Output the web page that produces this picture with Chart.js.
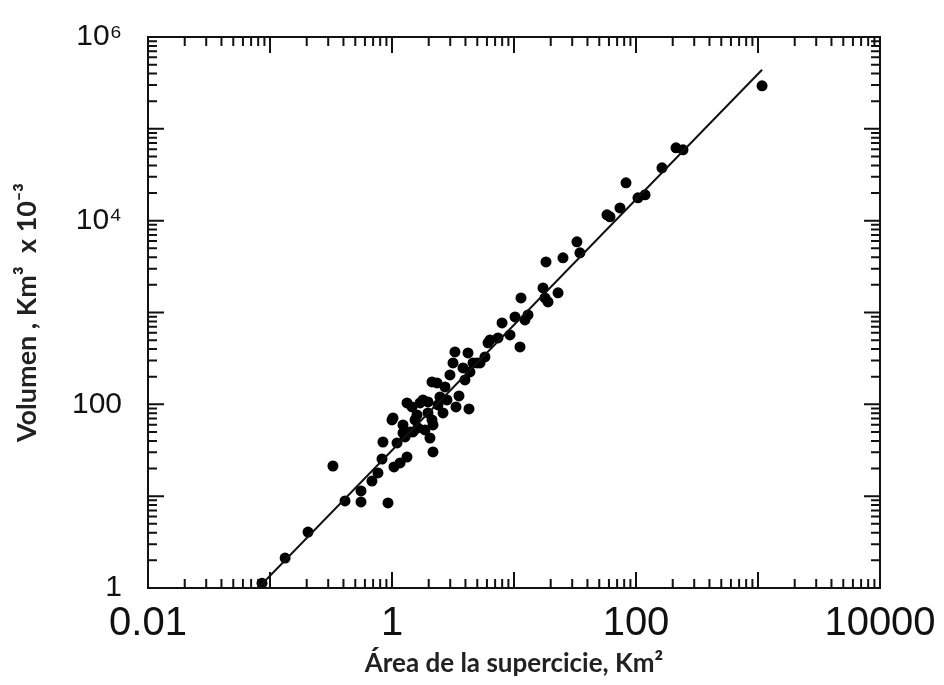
<!DOCTYPE html>
<html lang="es">
<head>
  <meta charset="UTF-8">
  <title>Volumen vs área de la superficie</title>
  <script src="https://cdn.jsdelivr.net/npm/chart.js"></script>
  <style>
    html, body { margin: 0; padding: 0; background: #fff; }
    canvas { display: block; }
  </style>
</head>
<body>
  <canvas id="chart" width="944" height="685"></canvas>

  <script>
    // valores (area en Km2, volumen en Km3 x 10^-3)
    const AREA = [
      0.086, 0.133, 0.205, 0.328, 0.412, 0.557, 0.557, 0.927, 0.685, 0.767,
      0.828, 0.843, 1.038, 1.164, 1.327, 1.099, 1.0, 1.231, 1.406, 1.633,
      2.047, 2.168, 2.168, 1.459, 1.698, 1.972, 1.279, 1.019, 3.346, 4.276,
      3.54, 2.128, 1.795, 1.603, 1.231, 1.486, 2.473, 2.717, 2.985, 3.819,
      2.338, 1.327, 1.972, 2.618, 2.128, 3.281, 4.198, 3.162, 5.265, 6.123,
      7.39, 4.977, 5.781, 4.613, 6.353, 7.98, 9.27, 10.19, 12.3, 13.03,
      11.2, 11.41, 17.29, 19.0, 22.96, 17.95, 18.29, 25.2, 32.8, 34.7,
      57.8, 61.2, 73.9, 82.8, 103.8, 118.6, 163.3, 212.8, 242.7, 1079,
      1.545, 1.862, 2.382, 2.823, 3.963, 4.355
    ];
    const VOLUME = [
      1.13, 2.12, 4.07, 21.3, 8.87, 8.65, 11.4, 8.43, 14.6, 17.9,
      25.4, 38.9, 20.8, 23.0, 26.7, 38.0, 67.6, 59.7, 50.0, 55.3,
      43.0, 30.3, 59.7, 93.7, 103.6, 80.6, 44.2, 71.1, 93.7, 89.1,
      123.6, 175.4, 111.6, 76.7, 48.8, 50.0, 120.5, 154.8, 209, 249.3,
      171.1, 103.6, 106.3, 80.6, 67.6, 372, 363, 282.6, 282.6, 467,
      529, 282.6, 328, 282.6, 503, 770, 570, 896, 830, 942,
      422, 1442, 1854, 1304, 1636, 1442, 3557, 3935, 5876, 4460,
      11570, 11000, 13780, 25800, 17710, 19100, 37600, 62100, 59100, 294000,
      67.6, 52.6, 98.5, 111.6, 184.5, 225.4
    ];

    // recta de ajuste
    const FIT_AREA = [0.08, 1080];
    const FIT_VOLUME = [1, 440000];

    // etiquetas de los ejes
    const X_TICKS = [0.01, 1, 100, 10000];
    const X_TICK_LABELS = ['0.01', '1', '100', '10000'];
    const Y_TICKS = [1, 100, 10000, 1000000];
    const Y_TICK_LABELS = ['1', '100', '10⁴', '10⁶'];

    const X_MIN = 0.01, X_MAX = 10000;
    const Y_MIN = 1, Y_MAX = 1000000;

    // marco y marcas hacia adentro en los cuatro lados
    const frameTicks = {
      id: 'frameTicks',
      afterDatasetsDraw(chart) {
        const { ctx, chartArea: a, scales: { x, y } } = chart;
        ctx.save();
        ctx.strokeStyle = '#111';
        ctx.lineWidth = 2;
        ctx.strokeRect(a.left, a.top, a.right - a.left, a.bottom - a.top);
        ctx.beginPath();
        for (let e = Math.log10(X_MIN); e < Math.log10(X_MAX) + 0.5; e++) {
          for (let k = 1; k <= 9; k++) {
            const v = k * Math.pow(10, e);
            if (v > X_MAX * 1.0001) break;
            const px = x.getPixelForValue(v);
            const len = k === 1 ? 16 : 9;
            ctx.moveTo(px, a.bottom); ctx.lineTo(px, a.bottom - len);
            ctx.moveTo(px, a.top); ctx.lineTo(px, a.top + len);
          }
        }
        for (let e = Math.log10(Y_MIN); e < Math.log10(Y_MAX) + 0.5; e++) {
          for (let k = 1; k <= 9; k++) {
            const v = k * Math.pow(10, e);
            if (v > Y_MAX * 1.0001) break;
            const py = y.getPixelForValue(v);
            const len = k === 1 ? 16 : 9;
            ctx.moveTo(a.left, py); ctx.lineTo(a.left + len, py);
            ctx.moveTo(a.right, py); ctx.lineTo(a.right - len, py);
          }
        }
        ctx.stroke();
        ctx.restore();
      }
    };

    const ctx = document.getElementById('chart').getContext('2d');

    new Chart(ctx, {
      type: 'scatter',
      data: {
        datasets: [
          {
            label: 'Lagos',
            data: AREA.map((a, i) => ({ x: a, y: VOLUME[i] })),
            backgroundColor: '#000',
            borderWidth: 0,
            pointRadius: 5.5,
            order: 2
          },
          {
            type: 'line',
            label: 'Ajuste',
            data: FIT_AREA.map((a, i) => ({ x: a, y: FIT_VOLUME[i] })),
            borderColor: '#111',
            borderWidth: 2,
            pointRadius: 0,
            fill: false,
            order: 1
          }
        ]
      },
      options: {
        responsive: false,
        animation: false,
        layout: { padding: { top: 37, right: 64, left: 0, bottom: 0 } },
        plugins: {
          legend: { display: false },
          tooltip: { enabled: false }
        },
        scales: {
          x: {
            type: 'logarithmic',
            min: X_MIN,
            max: X_MAX,
            grid: { display: false, drawTicks: false },
            border: { display: false },
            afterBuildTicks: s => { s.ticks = X_TICKS.map(v => ({ value: v })); },
            afterFit: s => { s.height = 97; s.paddingLeft = 0; s.paddingRight = 0; },
            ticks: {
              autoSkip: false,
              maxRotation: 0,
              padding: 12,
              color: '#111',
              font: { family: '"Liberation Sans", Arial, sans-serif', size: 40 },
              callback: (v, i) => X_TICK_LABELS[i]
            },
            title: {
              display: true,
              text: 'Área de la supercicie, Km²',
              color: '#222',
              font: { family: 'Lato, "Open Sans", sans-serif', size: 26, weight: 'bold' },
              padding: { top: 0, bottom: 6 }
            }
          },
          y: {
            type: 'logarithmic',
            min: Y_MIN,
            max: Y_MAX,
            grid: { display: false, drawTicks: false },
            border: { display: false },
            afterBuildTicks: s => { s.ticks = Y_TICKS.map(v => ({ value: v })); },
            afterFit: s => { s.width = 148; s.paddingTop = 0; s.paddingBottom = 0; },
            ticks: {
              autoSkip: false,
              padding: 26,
              color: '#111',
              font: { family: '"Liberation Sans", Arial, sans-serif', size: 30 },
              callback: (v, i) => Y_TICK_LABELS[i]
            },
            title: {
              display: true,
              text: 'Volumen , Km³  x 10⁻³',
              color: '#222',
              font: { family: 'Lato, "Open Sans", sans-serif', size: 27, weight: 'bold' },
              padding: { top: 11, bottom: 0 }
            }
          }
        }
      },
      plugins: [frameTicks]
    });
  </script>
</body>
</html>
